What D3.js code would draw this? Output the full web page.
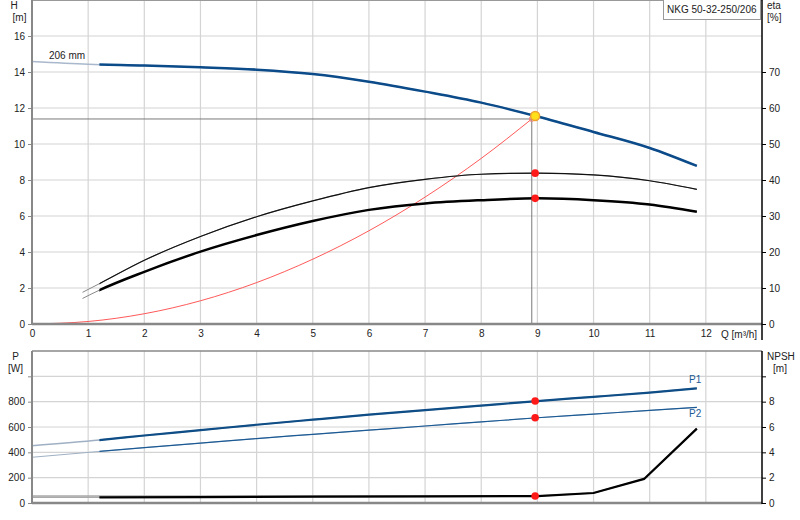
<!DOCTYPE html>
<html>
<head>
<meta charset="utf-8">
<script src="https://cdn.jsdelivr.net/npm/d3@7"></script>
<style>
  body { margin: 0; background: #fff; }
  svg { display: block; font-family: "Liberation Sans", Arial, sans-serif; font-size: 10px; }
</style>
</head>
<body>
<svg id="chart" width="800" height="520"></svg>
<script>
// pump curve data (Q in m3/h)
var qHead = [0, 1, 2, 3, 4, 5, 6, 7, 8, 9, 10, 11, 11.84];
var head = [14.58, 14.43, 14.36, 14.26, 14.13, 13.89, 13.46, 12.91, 12.30, 11.53, 10.67, 9.78, 8.78];

var qEta = [0.9, 1.2, 2, 3, 4, 5, 6, 7, 8, 9, 10, 11, 11.84];
var etaPump = [8.8, 11.2, 17.7, 24.3, 29.8, 34.2, 37.9, 40.2, 41.6, 41.9, 41.4, 39.8, 37.4];
var etaTotal = [7.1, 9.4, 14.5, 20.1, 24.7, 28.6, 31.7, 33.5, 34.4, 34.9, 34.4, 33.2, 31.2];

var qSystem = [0, 1, 2, 3, 4, 5, 6, 7, 8, 8.9];
var hSystem = [0, 0.14, 0.57, 1.29, 2.3, 3.6, 5.18, 7.05, 9.2, 11.39];

var qPower = [0, 1.2, 2, 3, 4, 5, 6, 7, 8, 9, 10, 11, 11.84];
var p1 = [452, 497, 533, 575, 618, 658, 697, 733, 769, 805, 838, 872, 905];
var p2 = [361, 407, 437, 473, 509, 542, 575, 608, 640, 673, 702, 731, 755];

var qNpsh = [0, 1.2, 3, 5, 7, 9, 10, 10.9, 11.84];
var npsh = [0.45, 0.45, 0.47, 0.5, 0.52, 0.55, 0.79, 1.9, 5.87];

// duty point and operating point
var dutyQ = 8.9, dutyH = 11.39;
var opQ = 8.96, opH = 11.56, opEtaPump = 41.9, opEtaTotal = 34.9;
var opP1 = 805, opP2 = 673, opNpsh = 0.55;
var curveStart = 1.2;

// ticks
var qTicks = [0, 1, 2, 3, 4, 5, 6, 7, 8, 9, 10, 11, 12];
var hTicks = [0, 2, 4, 6, 8, 10, 12, 14, 16];
var etaTicks = [0, 10, 20, 30, 40, 50, 60, 70];
var pTicks = [0, 200, 400, 600, 800, 1000];
var nTicks = [0, 2, 4, 6, 8, 10];

var svg = d3.select("#chart");

var x = d3.scaleLinear().domain([0, 13]).range([32, 762]);
var yH = d3.scaleLinear().domain([0, 18]).range([324, 0]);
var yEta = d3.scaleLinear().domain([0, 90]).range([324, 0]);
var yP = d3.scaleLinear().domain([0, 1200]).range([503, 351]);
var yN = d3.scaleLinear().domain([0, 12]).range([503, 351]);

// clip so the measured part of each curve starts at curveStart
var defs = svg.append("defs");
defs.append("clipPath").attr("id", "main")
  .append("rect")
  .attr("x", x(curveStart)).attr("y", 0)
  .attr("width", 800).attr("height", 520);

// grid
function grid(yScale, vals, top, bottom) {
  var g = svg.append("g").attr("stroke", "#d4d4d4").attr("stroke-width", 1.2);
  g.append("g").selectAll("line").data(qTicks.slice(1)).join("line")
    .attr("x1", d => x(d)).attr("x2", d => x(d))
    .attr("y1", top).attr("y2", bottom);
  g.append("g").selectAll("line").data(vals).join("line")
    .attr("x1", x(0)).attr("x2", x(13))
    .attr("y1", d => yScale(d)).attr("y2", d => yScale(d));
}
grid(yH, hTicks.slice(1), 0, 324);
grid(yP, pTicks.slice(1), 351, 503);

// frame tops
svg.append("line").attr("x1", x(0)).attr("x2", x(13)).attr("y1", 0.5).attr("y2", 0.5)
  .attr("stroke", "#999").attr("stroke-width", 1);
svg.append("line").attr("x1", x(0)).attr("x2", x(13)).attr("y1", 351).attr("y2", 351)
  .attr("stroke", "#888").attr("stroke-width", 1.5);

// duty point guide lines
svg.append("line")
  .attr("x1", x(0)).attr("x2", x(dutyQ))
  .attr("y1", yH(dutyH)).attr("y2", yH(dutyH))
  .attr("stroke", "#7a7a7a").attr("stroke-width", 1);
svg.append("line")
  .attr("x1", x(dutyQ)).attr("x2", x(dutyQ))
  .attr("y1", yH(dutyH)).attr("y2", yH(0))
  .attr("stroke", "#7a7a7a").attr("stroke-width", 1);
svg.append("line")
  .attr("x1", x(0)).attr("x2", x(opQ))
  .attr("y1", yN(opNpsh)).attr("y2", yN(opNpsh))
  .attr("stroke", "#aaa").attr("stroke-width", 1.5);

function path(xs, ys, yScale, curve) {
  return d3.line()
    .x((d, i) => x(xs[i]))
    .y(d => yScale(d))
    .curve(curve)(ys);
}

function curve(xs, ys, yScale, shape, extColor, extWidth, color, width) {
  svg.append("path")
    .attr("d", path(xs, ys, yScale, shape))
    .attr("fill", "none").attr("stroke", extColor).attr("stroke-width", extWidth);
  svg.append("path")
    .attr("d", path(xs, ys, yScale, shape))
    .attr("clip-path", "url(#main)")
    .attr("fill", "none").attr("stroke", color).attr("stroke-width", width);
}

// system curve
svg.append("path")
  .attr("d", path(qSystem, hSystem, yH, d3.curveMonotoneX))
  .attr("fill", "none").attr("stroke", "#ff3c3c").attr("stroke-width", 1)
  .attr("opacity", 0.85);
svg.append("circle")
  .attr("cx", x(dutyQ)).attr("cy", yH(dutyH)).attr("r", 2.5)
  .attr("fill", "none").attr("stroke", "#f08080").attr("stroke-width", 1);

// top chart curves
curve(qHead, head, yH, d3.curveMonotoneX, "#a9b8cc", 1.5, "#0c4b8a", 2.5);
curve(qEta, etaPump, yEta, d3.curveMonotoneX, "#888", 1, "#111", 1.2);
curve(qEta, etaTotal, yEta, d3.curveMonotoneX, "#888", 1, "#000", 2.5);

// bottom chart curves
curve(qPower, p1, yP, d3.curveMonotoneX, "#9fb0c4", 1.5, "#0e4d86", 2.2);
curve(qPower, p2, yP, d3.curveMonotoneX, "#9fb0c4", 1, "#1b5a95", 1.2);
curve(qNpsh, npsh, yN, d3.curveLinear, "#aaa", 1.5, "#000", 2.2);

// axes
function styleAxis(g, color) {
  g.select(".domain").remove();
  g.selectAll(".tick line").attr("stroke", color);
  g.selectAll(".tick text").attr("fill", "#222")
    .style("font-family", "Liberation Sans, Arial, sans-serif").style("font-size", "10px");
}

svg.append("g").attr("transform", "translate(" + x(0) + ",0)")
  .call(d3.axisLeft(yH).tickValues(hTicks).tickSize(4).tickPadding(3))
  .call(styleAxis, "#888");
svg.append("g").attr("transform", "translate(" + x(13) + ",0)")
  .call(d3.axisRight(yEta).tickValues(etaTicks).tickSize(4).tickPadding(3))
  .call(styleAxis, "#000");
svg.append("g").attr("transform", "translate(0," + yH(0) + ")")
  .call(d3.axisBottom(x).tickValues(qTicks).tickSize(0).tickPadding(6))
  .call(styleAxis, "#888");

svg.append("g").attr("transform", "translate(" + x(0) + ",0)")
  .call(d3.axisLeft(yP).tickValues(pTicks).tickSize(4).tickPadding(3)
    .tickFormat(d => d === 1000 ? "" : d))
  .call(styleAxis, "#888");
svg.append("g").attr("transform", "translate(" + x(13) + ",0)")
  .call(d3.axisRight(yN).tickValues(nTicks).tickSize(4).tickPadding(3)
    .tickFormat(d => d === 10 ? "" : d))
  .call(styleAxis, "#000");

// axis lines
svg.append("line").attr("x1", x(0)).attr("x2", x(0)).attr("y1", 0).attr("y2", yH(0))
  .attr("stroke", "#888").attr("stroke-width", 2);
svg.append("line").attr("x1", x(0)).attr("x2", x(13)).attr("y1", yH(0)).attr("y2", yH(0))
  .attr("stroke", "#888").attr("stroke-width", 2.5);
svg.append("line").attr("x1", x(13)).attr("x2", x(13)).attr("y1", 0).attr("y2", 340)
  .attr("stroke", "#000").attr("stroke-width", 1.5);

svg.append("line").attr("x1", x(0)).attr("x2", x(0)).attr("y1", 351).attr("y2", yP(0))
  .attr("stroke", "#888").attr("stroke-width", 2);
svg.append("line").attr("x1", x(0)).attr("x2", x(13)).attr("y1", yP(0)).attr("y2", yP(0))
  .attr("stroke", "#888").attr("stroke-width", 2.5);
svg.append("line").attr("x1", x(13)).attr("x2", x(13)).attr("y1", 351).attr("y2", 504)
  .attr("stroke", "#000").attr("stroke-width", 1.5);

// operating point markers
var reds = [
  [opEtaPump, yEta], [opEtaTotal, yEta],
  [opP1, yP], [opP2, yP], [opNpsh, yN]
];
svg.append("g").selectAll("circle").data(reds).join("circle")
  .attr("cx", x(opQ)).attr("cy", d => d[1](d[0])).attr("r", 3.8)
  .attr("fill", "#ff1a1a");
svg.append("circle")
  .attr("cx", x(opQ)).attr("cy", yH(opH)).attr("r", 4.5)
  .attr("fill", "#ffe01a").attr("stroke", "#f0a030").attr("stroke-width", 1.5);

// labels
function label(t, px, py, anchor, color) {
  svg.append("text").attr("x", px).attr("y", py)
    .attr("text-anchor", anchor || "start")
    .attr("fill", color || "#222").text(t);
}
label("H", 14, 9, "middle");
label("[m]", 19.5, 21, "middle");
label("eta", 767, 9);
label("[%]", 767, 21);
label("P", 15.5, 360, "middle");
label("[W]", 15.5, 372, "middle");
label("NPSH", 767, 360);
label("[m]", 780, 372, "middle");
label("Q [m\u00b3/h]", 721, 338);
label("206 mm", 49, 59);
label("P1", 689, 383, "start", "#1b5a95");
label("P2", 689, 417, "start", "#1b5a95");

// product tag
svg.append("rect").attr("x", 663.5).attr("y", -1).attr("width", 97).attr("height", 20.5)
  .attr("fill", "#fff").attr("stroke", "#999");
label("NKG 50-32-250/206", 667, 13);
</script>
</body>
</html>
